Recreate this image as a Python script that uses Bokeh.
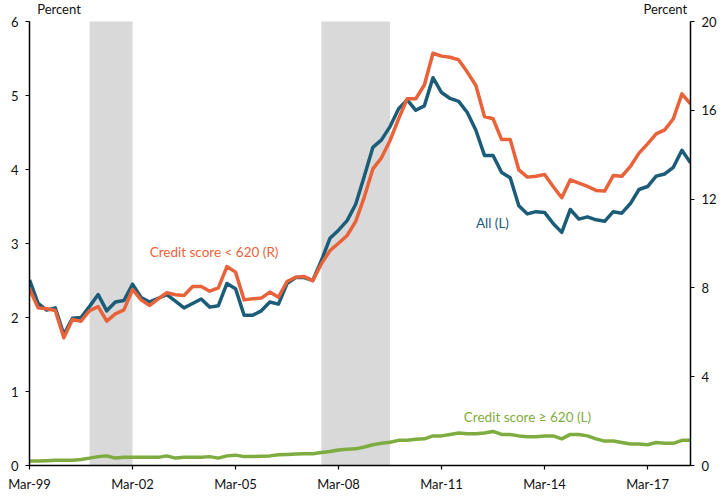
from bokeh.plotting import figure
from bokeh.models import Range1d, LinearAxis, FixedTicker, Label
from bokeh.embed import file_html
from bokeh.resources import INLINE

# Quarterly observations, Mar-99 (index 0) .. Jun-18 (index 77)
all_l = [2.51, 2.19, 2.10, 2.13, 1.77, 1.99, 2.00, 2.15, 2.31, 2.09,
         2.21, 2.23, 2.45, 2.27, 2.21, 2.26, 2.31, 2.22, 2.13, 2.19,
         2.25, 2.14, 2.16, 2.46, 2.39, 2.03, 2.03, 2.09, 2.21, 2.18,
         2.46, 2.54, 2.54, 2.50, 2.77, 3.07, 3.18, 3.31, 3.53, 3.91,
         4.30, 4.40, 4.58, 4.82, 4.94, 4.80, 4.86, 5.24, 5.04, 4.96,
         4.92, 4.77, 4.53, 4.19, 4.19, 3.96, 3.89, 3.51, 3.40, 3.43,
         3.42, 3.27, 3.15, 3.46, 3.33, 3.36, 3.32, 3.30, 3.43, 3.41,
         3.54, 3.73, 3.77, 3.91, 3.94, 4.03, 4.26, 4.09]

sub620_r = [7.96, 7.10, 7.06, 6.98, 5.75, 6.58, 6.50, 6.98, 7.16, 6.50,
            6.83, 7.01, 7.93, 7.46, 7.21, 7.51, 7.78, 7.69, 7.66, 8.06,
            8.06, 7.85, 8.00, 8.96, 8.71, 7.46, 7.51, 7.54, 7.81, 7.58,
            8.29, 8.48, 8.51, 8.33, 9.08, 9.68, 10.01, 10.36, 11.00, 12.09,
            13.36, 13.86, 14.64, 15.62, 16.52, 16.52, 17.14, 18.57, 18.44, 18.39,
            18.27, 17.72, 17.12, 15.72, 15.62, 14.68, 14.68, 13.32, 12.99, 13.03,
            13.11, 12.57, 12.06, 12.87, 12.72, 12.57, 12.39, 12.36, 13.06, 13.03,
            13.47, 14.07, 14.49, 14.94, 15.12, 15.62, 16.74, 16.29]

prime_l = [0.06, 0.06, 0.065, 0.07, 0.07, 0.07, 0.08, 0.10, 0.12, 0.13,
           0.10, 0.11, 0.11, 0.11, 0.11, 0.11, 0.13, 0.10, 0.11, 0.11,
           0.11, 0.12, 0.10, 0.13, 0.14, 0.12, 0.12, 0.125, 0.13, 0.145,
           0.15, 0.155, 0.16, 0.16, 0.175, 0.19, 0.21, 0.22, 0.225, 0.25,
           0.28, 0.30, 0.315, 0.34, 0.34, 0.355, 0.36, 0.40, 0.40, 0.42,
           0.44, 0.43, 0.43, 0.44, 0.46, 0.42, 0.42, 0.40, 0.39, 0.39,
           0.40, 0.40, 0.36, 0.42, 0.42, 0.40, 0.36, 0.33, 0.33, 0.31,
           0.29, 0.29, 0.28, 0.31, 0.30, 0.30, 0.34, 0.34]

quarters = list(range(len(all_l)))

# Recession shading (quarter indices)
rec_start = [7, 34]
rec_end = [12, 42]

x_tick_pos = [0, 12, 24, 36, 48, 60, 72]
x_tick_labels = ["Mar-99", "Mar-02", "Mar-05", "Mar-08", "Mar-11", "Mar-14", "Mar-17"]
left_ticks = [0, 1, 2, 3, 4, 5, 6]
right_ticks = [0, 4, 8, 12, 16, 20]
left_max, right_max = 6, 20

BLUE = "#1b5c79"
ORANGE = "#e8633a"
GREEN = "#7fac40"
FONT = "Lato"

# headroom above the 6 / 20 tick so the "Percent" captions sit inside the frame
head = 465.0 / 74.0
p = figure(width=725, height=503, output_backend="svg", toolbar_location=None,
           x_range=Range1d(0, len(all_l) - 1), y_range=Range1d(0, head),
           min_border_left=29, min_border_right=35, min_border_top=0,
           min_border_bottom=38)
p.extra_y_ranges = {"r": Range1d(0, head * right_max / left_max)}
p.add_layout(LinearAxis(y_range_name="r"), "right")

p.xgrid.visible = False
p.ygrid.visible = False
p.outline_line_color = None
p.background_fill_color = "white"
p.border_fill_color = "white"

p.xaxis.ticker = FixedTicker(ticks=x_tick_pos)
p.xaxis.major_label_overrides = {t: l for t, l in zip(x_tick_pos, x_tick_labels)}
p.yaxis[0].ticker = FixedTicker(ticks=left_ticks)
p.yaxis[1].ticker = FixedTicker(ticks=right_ticks)
p.yaxis[0].bounds = (0, left_max)
p.yaxis[1].bounds = (0, right_max)

for ax in list(p.xaxis) + list(p.yaxis):
    ax.axis_line_color = "black"
    ax.axis_line_width = 1.5
    ax.major_tick_line_color = "black"
    ax.major_tick_line_width = 1.2
    ax.major_tick_out = 4
    ax.major_tick_in = 0
    ax.minor_tick_line_color = None
    ax.major_label_text_font = FONT
    ax.major_label_text_font_size = "13px"
    ax.major_label_text_color = "#111111"
p.xaxis.major_label_standoff = 6
p.yaxis[0].major_label_standoff = 7
p.yaxis[1].major_label_standoff = 7

p.quad(left=rec_start, right=rec_end, bottom=0, top=left_max,
       fill_color="#d9d9d9", line_color=None)

p.line(quarters, all_l, line_color=BLUE, line_width=3.5, line_join="round")
p.line(quarters, sub620_r, line_color=ORANGE, line_width=3.5, line_join="round",
       y_range_name="r")
p.line(quarters, prime_l, line_color=GREEN, line_width=3.5, line_join="round")

def lab(x, y, text, color, align="left", size="13.5px"):
    p.add_layout(Label(x=x, y=y, text=text, text_color=color, text_font=FONT,
                       text_font_size=size, text_align=align,
                       text_baseline="middle"))

lab(14.0, 2.88, "Credit score < 620 (R)", ORANGE)
lab(52.0, 3.28, "All (L)", BLUE)
lab(50.6, 0.66, "Credit score \u2265 620 (L)", GREEN)
lab(0.9, 6.17, "Percent", "#111111", size="13px")
lab(76.6, 6.17, "Percent", "#111111", align="right", size="13px")

open("out.html", "w").write(file_html(p, INLINE))
